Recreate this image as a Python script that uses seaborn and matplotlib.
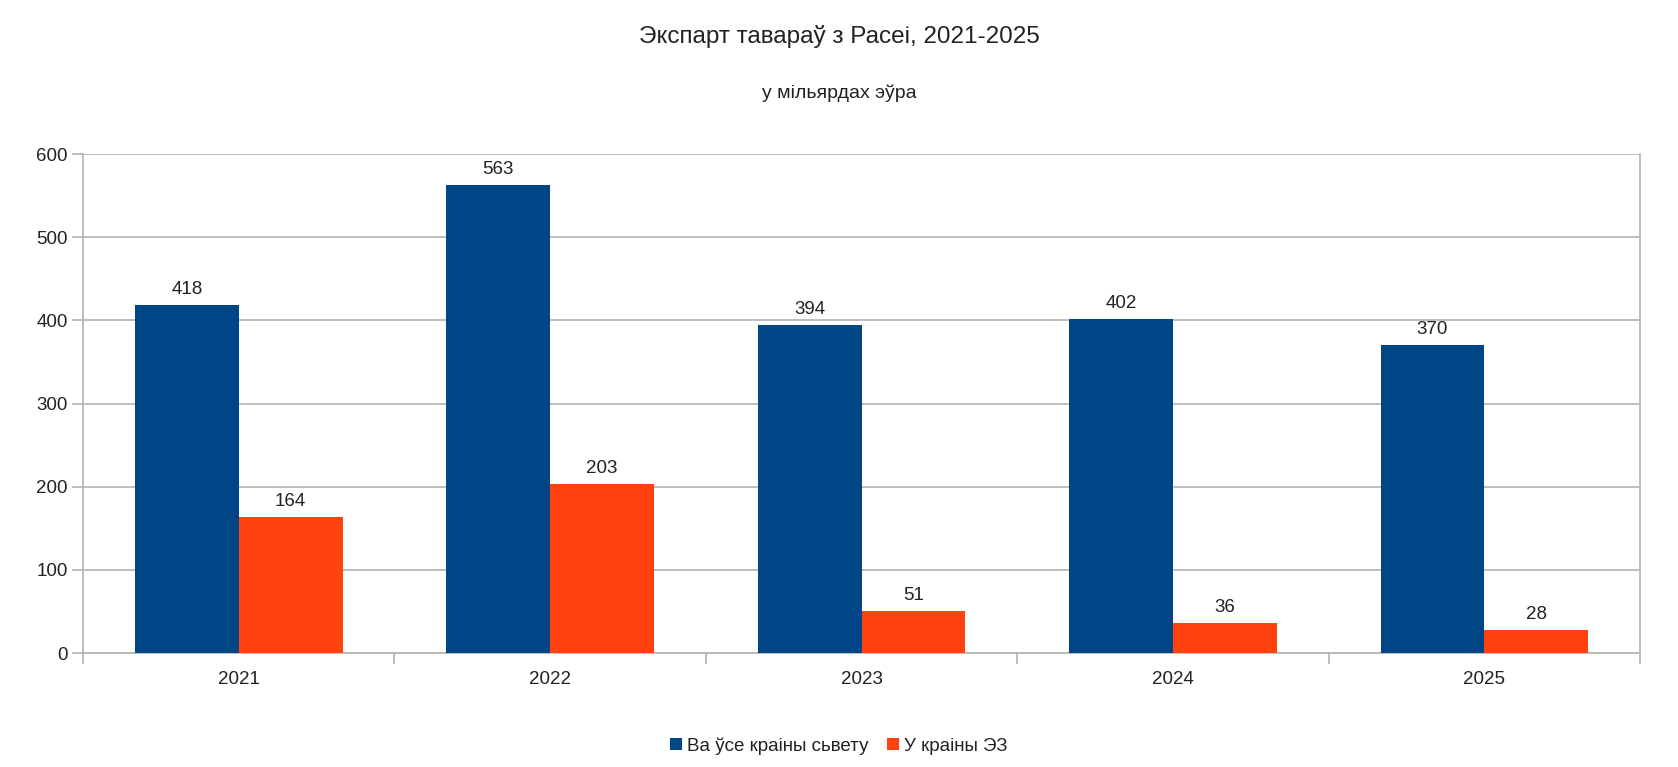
import pandas as pd
import matplotlib
matplotlib.use("Agg")
import matplotlib.pyplot as plt
import seaborn as sns

# data
years = ["2021", "2022", "2023", "2024", "2025"]
world = [418, 563, 394, 402, 370]
eu = [164, 203, 51, 36, 28]
series_names = ["Ва ўсе краіны сьвету", "У краіны ЭЗ"]

df = pd.DataFrame({
    "year": years * 2,
    "value": world + eu,
    "series": [series_names[0]] * len(years) + [series_names[1]] * len(years),
})

sns.set_theme(style="white")
plt.rcParams["font.family"] = ["Liberation Sans", "DejaVu Sans"]

fig = plt.figure(figsize=(16.78, 7.67), dpi=100)
ax = fig.add_axes([0.0495, 0.1486, 0.9279, 0.6506])

palette = {series_names[0]: "#004586", series_names[1]: "#ff420e"}
sns.barplot(data=df, x="year", y="value", hue="series", palette=palette,
            width=0.667, saturation=1, ax=ax, legend=True, zorder=3, linewidth=0)

for cont in ax.containers:
    ax.bar_label(cont, fmt="%d", padding=5, fontsize=13.5, color="#222222")

ax.set_ylim(0, 600)
ax.set_xlim(-0.5, len(years) - 0.5)
ax.set_yticks(range(0, 601, 100))
ax.yaxis.grid(True, color="#b3b3b3", linewidth=1.2, zorder=0)
ax.set_axisbelow(True)
ax.set_xlabel("")
ax.set_ylabel("")

for side in ["left", "right", "top", "bottom"]:
    ax.spines[side].set_color("#b3b3b3")
    ax.spines[side].set_linewidth(1.2)
ax.spines["top"].set_visible(False)

# x ticks at category boundaries, labels centered
ax.set_xticks([i + 0.5 for i in range(-1, len(years))], minor=False)
ax.set_xticklabels([])
ax.set_xticks(range(len(years)), minor=True)
ax.set_xticklabels(years, minor=True)
ax.tick_params(axis="x", which="major", length=8, color="#b3b3b3", width=1.2, bottom=True)
ax.tick_params(axis="x", which="minor", length=0, labelsize=13.5, pad=13, labelcolor="#222222")
ax.tick_params(axis="y", length=8, color="#b3b3b3", width=1.2, left=True, labelsize=13.5,
               labelcolor="#222222", pad=3)

handles, labels = ax.get_legend_handles_labels()
ax.legend_.remove()
fig.legend(handles, labels, loc="center", bbox_to_anchor=(0.5, 0.027), ncol=2, frameon=False,
           fontsize=13.5, handlelength=0.6, handleheight=0.6, handletextpad=0.3, columnspacing=1.0,
           labelcolor="#222222")

fig.text(0.5, 0.952, "Экспарт тавараў з Расеі, 2021-2025", ha="center", va="center",
         fontsize=17.5, color="#222222")
fig.text(0.5, 0.879, "у мільярдах эўра", ha="center", va="center", fontsize=14, color="#222222")

fig.savefig("out.png", dpi=100)
